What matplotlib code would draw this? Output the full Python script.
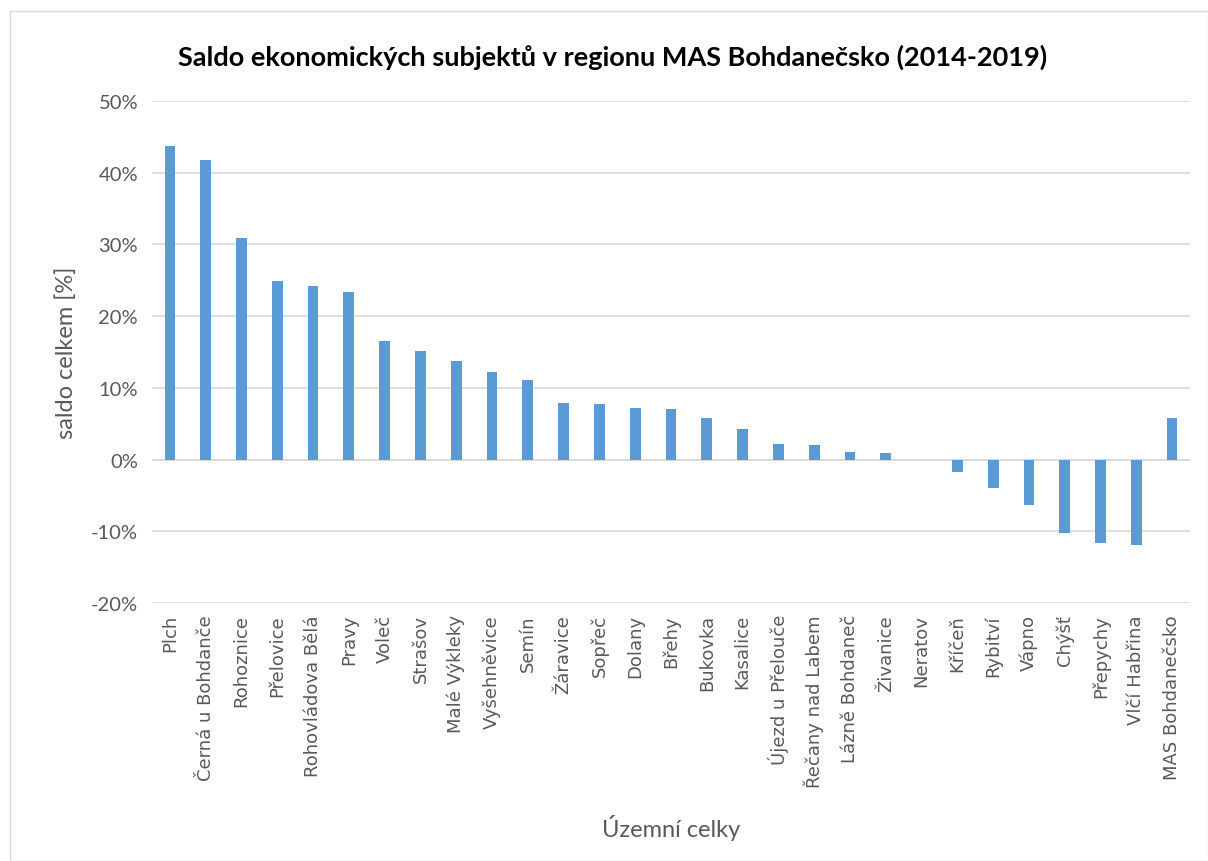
import numpy as np
import matplotlib.pyplot as plt
from matplotlib.patches import Rectangle
from matplotlib.ticker import FuncFormatter

# saldo ekonomickych subjektu 2014-2019, v procentech
obce = ["Plch", "Černá u Bohdanče", "Rohoznice", "Přelovice", "Rohovládova Bělá",
        "Pravy", "Voleč", "Strašov", "Malé Výkleky", "Vyšehněvice", "Semín",
        "Žáravice", "Sopřeč", "Dolany", "Břehy", "Bukovka", "Kasalice",
        "Újezd u Přelouče", "Řečany nad Labem", "Lázně Bohdaneč", "Živanice",
        "Neratov", "Kříčeň", "Rybitví", "Vápno", "Chýšť", "Přepychy",
        "Vlčí Habřina", "MAS Bohdanečsko"]
saldo = [43.7, 41.8, 30.9, 24.9, 24.2, 23.3, 16.6, 15.1, 13.8, 12.2, 11.1,
         7.9, 7.8, 7.2, 7.1, 5.8, 4.3, 2.2, 2.0, 1.1, 0.9,
         0.0, -1.7, -4.0, -6.3, -10.3, -11.7, -11.9, 5.8]
yticks = [-20, -10, 0, 10, 20, 30, 40, 50]

fig = plt.figure(figsize=(12.08, 8.62), dpi=100)
ax = fig.add_axes([152/1208, 1 - 604/862, (1190-152)/1208, (604-102)/862])

# ramecek grafu
fig.patches.append(Rectangle((10/1208, 0), 1 - 10/1208, 1 - 12/862, transform=fig.transFigure,
                             fill=False, edgecolor="#d9d9d9", linewidth=1))

x = np.arange(len(obce))
ax.bar(x, saldo, width=0.3, color="#5b9bd5", zorder=3)

ax.set_xlim(-0.5, len(obce) - 0.5)
ax.set_ylim(-20, 50)
ax.set_yticks(yticks)
ax.yaxis.set_major_formatter(FuncFormatter(lambda v, p: f"{v:.0f}%"))
ax.grid(axis="y", color="#d9d9d9", linewidth=1.2, zorder=0)
for s in ax.spines.values():
    s.set_visible(False)
ax.axhline(0, color="#d9d9d9", linewidth=1.2, zorder=1)
ax.tick_params(axis="both", length=0)
ax.tick_params(axis="y", labelsize=14.5, labelcolor="#595959", pad=10)
for lab in ax.get_yticklabels():
    lab.set_fontfamily("Lato")

ax.set_xticks(x)
ax.set_xticklabels(obce, rotation=90)
for lab in ax.get_xticklabels():
    lab.set_fontfamily("DejaVu Sans")
    lab.set_fontsize(13)
    lab.set_color("#595959")
ax.tick_params(axis="x", pad=8)

ax.set_ylabel("saldo celkem [%]", fontsize=17, color="#595959", family="Lato", labelpad=10)
ax.set_xlabel("Územní celky", fontsize=17, color="#595959", family="Lato", labelpad=20)

fig.text(0.507, 1 - 57/862, "Saldo ekonomických subjektů v regionu MAS Bohdanečsko (2014-2019)",
         ha="center", va="center", fontsize=19.5, fontweight="bold", family="Lato", color="black")

fig.savefig("out.png", dpi=100)
